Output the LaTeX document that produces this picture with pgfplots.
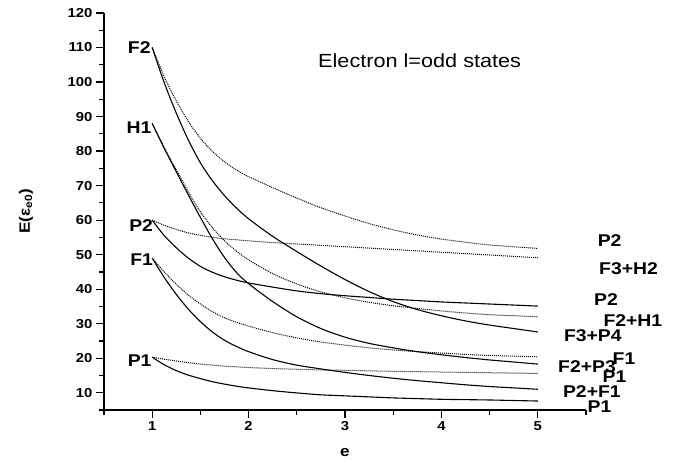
\documentclass[border=0pt]{standalone}
\usepackage{fontspec}
\setmainfont{Liberation Sans}[FakeStretch=1.14]
\usepackage{pgfplots}
\usepackage{pgfplotstable}
\pgfplotsset{compat=1.18}

\tikzset{
  lbl/.style={font=\bfseries\fontsize{17}{19}\selectfont, inner sep=0pt},
  dotc/.style={black, line width=1pt, densely dotted, smooth},
  solc/.style={black, line width=1.1pt, smooth},
}

% Energies of the electron l=odd states against e
% d = dotted branch, s = solid branch
\pgfplotstableread{
e     F2d   F2s   H1d   H1s   P2d   P2s   F1d   F1s   P1d   P1s
1.000 110.0 110.0 88.0  88.0  60.0  60.0  49.0  49.0  20.3  20.3
1.125 101.5 99.8  81.0  80.8  58.5  55.5  45.0  43.4  19.7  18.1
1.250 94.5  91.0  74.6  74.0  57.3  52.0  41.4  38.5  19.2  16.4
1.375 88.6  83.2  68.2  67.3  56.3  49.0  38.3  34.2  18.7  15.1
1.500 83.7  76.6  62.4  60.8  55.6  46.6  35.7  30.6  18.3  14.1
1.625 79.9  71.4  57.8  54.6  55.0  44.9  33.5  27.6  18.0  13.2
1.750 76.9  67.1  54.0  49.2  54.6  43.6  31.7  25.2  17.7  12.5
1.875 74.5  63.5  51.0  44.8  54.3  42.6  30.4  23.4  17.5  11.9
2.000 72.6  60.4  48.5  41.6  54.0  41.8  29.3  21.9  17.3  11.4
2.250 69.4  55.3  44.5  36.4  53.5  40.6  27.4  19.6  17.0  10.6
2.500 66.4  50.9  41.5  32.0  53.1  39.5  25.9  18.0  16.8  9.95
2.750 63.6  46.7  39.2  28.6  52.7  38.7  24.7  16.9  16.6  9.4
3.000 61.2  42.8  37.5  26.1  52.3  38.1  23.8  15.9  16.5  9.1
3.250 59.0  39.3  36.2  24.3  51.9  37.6  23.0  15.0  16.35 8.8
3.500 57.2  36.4  35.2  23.0  51.5  37.1  22.4  14.2  16.2  8.5
3.750 55.7  34.1  34.4  21.9  51.1  36.7  21.9  13.5  16.1  8.3
4.000 54.5  32.3  33.7  21.0  50.7  36.3  21.5  12.9  16.0  8.1
4.250 53.6  30.8  33.1  20.2  50.3  36.0  21.1  12.3  15.9  8.0
4.500 52.8  29.6  32.6  19.5  49.9  35.7  20.8  11.8  15.8  7.9
4.750 52.3  28.6  32.3  18.9  49.5  35.4  20.6  11.4  15.7  7.75
5.000 51.8  27.6  32.0  18.3  49.1  35.1  20.4  11.0  15.6  7.6
}\levels

\begin{document}
\begin{tikzpicture}
\begin{axis}[
  width=482pt, height=397pt, scale only axis,
  xmin=0.5, xmax=5.5, ymin=5, ymax=120,
  axis x line*=bottom, axis y line*=left,
  axis line style={line width=1.3pt, -},
  xtick={1,2,3,4,5}, ytick={10,20,...,120},
  minor xtick={0.5,1.5,2.5,3.5,4.5,5.5},
  minor ytick={5,15,...,115},
  tick align=outside,
  major tick length=8pt, minor tick length=5pt,
  every tick/.style={line width=1.2pt, black},
  ticklabel style={font=\bfseries\fontsize{13}{15}\selectfont},
  /pgf/number format/assume math mode=true,
  xlabel={e}, ylabel={E(ε\textsubscript{e0})},
  label style={font=\bfseries\fontsize{15}{17}\selectfont},
  xlabel style={at={(axis description cs:0.5,-0.1075)}, anchor=center},
  ylabel style={at={(axis description cs:-0.162,0.5)}, anchor=center},
  clip=false,
]
\coordinate (ll) at (rel axis cs:0,0);

\addplot[dotc] table[x=e, y=F2d] {\levels};
\addplot[solc] table[x=e, y=F2s] {\levels};
\addplot[dotc] table[x=e, y=H1d] {\levels};
\addplot[solc] table[x=e, y=H1s] {\levels};
\addplot[dotc] table[x=e, y=P2d] {\levels};
\addplot[solc] table[x=e, y=P2s] {\levels};
\addplot[dotc] table[x=e, y=F1d] {\levels};
\addplot[solc] table[x=e, y=F1s] {\levels};
\addplot[dotc] table[x=e, y=P1d] {\levels};
\addplot[solc] table[x=e, y=P1s] {\levels};

% state names at e=1
\node[lbl, anchor=east] at (axis cs:0.985,110) {F2};
\node[lbl, anchor=east] at (axis cs:0.995,86.7) {H1};
\node[lbl, anchor=east] at (axis cs:1.01,58.5) {P2};
\node[lbl, anchor=east] at (axis cs:1.01,48.6) {F1};
\node[lbl, anchor=east] at (axis cs:0.995,19.3) {P1};

% state names at e=5
\node[lbl, anchor=west] at (axis cs:5.62,54.0) {P2};
\node[lbl, anchor=west] at (axis cs:5.635,46.0) {F3+H2};
\node[lbl, anchor=west] at (axis cs:5.583,37.1) {P2};
\node[lbl, anchor=west] at (axis cs:5.68,31.0) {F2+H1};
\node[lbl, anchor=west] at (axis cs:5.27,26.4) {F3+P4};
\node[lbl, anchor=west] at (axis cs:5.775,20.0) {F1};
\node[lbl, anchor=west] at (axis cs:5.21,17.5) {F2+P3};
\node[lbl, anchor=west] at (axis cs:5.67,14.6) {P1};
\node[lbl, anchor=west] at (axis cs:5.26,10.3) {P2+F1};
\node[lbl, anchor=west] at (axis cs:5.515,6.0) {P1};

\node[anchor=west, inner sep=0pt, font=\fontsize{19}{21}\selectfont]
  at (axis cs:2.72,106.3) {Electron l=odd states};
\end{axis}
\pgfresetboundingbox
\path (ll) ++(-104pt,-56pt) rectangle ++(683pt,466pt);
\end{tikzpicture}
\end{document}
